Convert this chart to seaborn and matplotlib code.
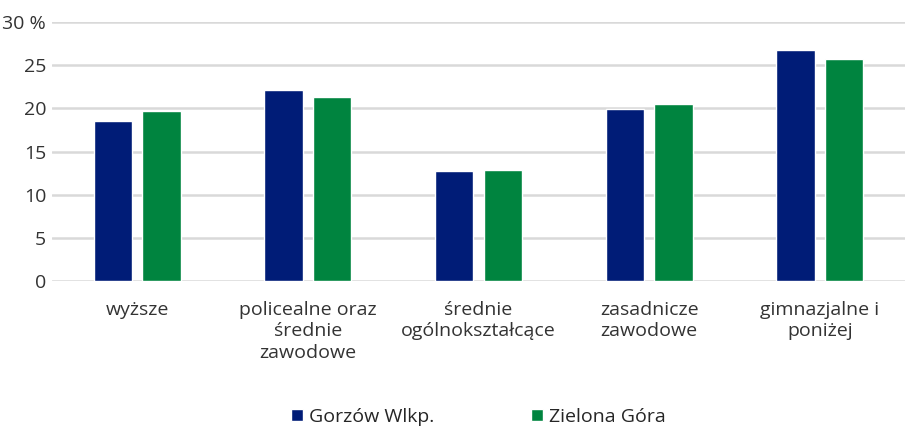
import matplotlib
matplotlib.use("Agg")
import matplotlib.pyplot as plt
import seaborn as sns
import pandas as pd

# dane
categories = ["wyższe", "policealne oraz\nśrednie\nzawodowe", "średnie\nogólnokształcące",
              "zasadnicze\nzawodowe", "gimnazjalne i\nponiżej"]
gorzow = [18.5, 22.1, 12.7, 19.9, 26.7]
zielona = [19.7, 21.3, 12.9, 20.5, 25.7]
series = ["Gorzów Wlkp.", "Zielona Góra"]
colors = ["#001c77", "#00843f"]
yticks = [0, 5, 10, 15, 20, 25, 30]
ytick_labels = ["0", "5", "10", "15", "20", "25", "30 %"]

df = pd.DataFrame({
    "kat": categories * 2,
    "seria": [series[0]] * len(categories) + [series[1]] * len(categories),
    "val": gorzow + zielona,
})

sns.set_style("white")
plt.rcParams["font.family"] = ["Open Sans", "DejaVu Sans"]

fig = plt.figure(figsize=(9.07, 4.28), dpi=100)
ax = fig.add_axes([0.057, 0.343, 0.941, 0.606])

sns.barplot(data=df, x="kat", y="val", hue="seria", palette=colors,
            width=0.57, gap=0.21, saturation=1, ax=ax, zorder=3)

ax.set_ylim(0, 30)
ax.set_yticks(yticks)
ax.set_yticklabels(ytick_labels, fontsize=14, color="#333333")
ax.tick_params(axis="x", labelsize=14, colors="#333333", length=0, pad=14)
ax.tick_params(axis="y", length=0, pad=4)
for t in ax.get_xticklabels():
    t.set_linespacing(1.25)
ax.grid(axis="y", color="#d9d9d9", linewidth=1.8, zorder=0)
ax.set_xlabel("")
ax.set_ylabel("")
sns.despine(ax=ax, left=True, bottom=True)

ax.legend(loc="lower center", bbox_to_anchor=(0.5, -0.625), ncol=2, frameon=False,
          fontsize=14, handlelength=0.6, handleheight=0.6, handletextpad=0.3,
          columnspacing=5.0)

fig.savefig("out.png", dpi=100)
